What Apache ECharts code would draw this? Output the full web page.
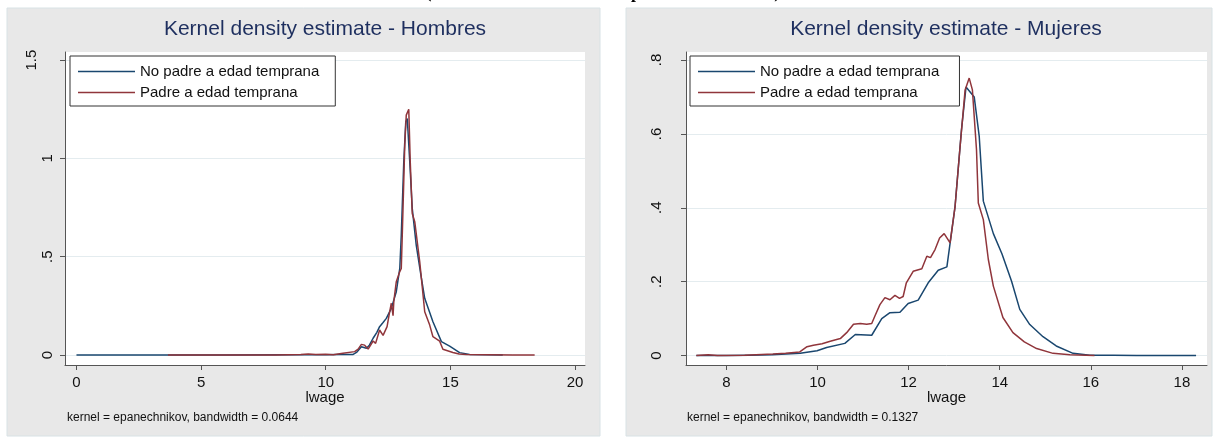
<!DOCTYPE html>
<html>
<head>
<meta charset="utf-8">
<script src="https://cdn.jsdelivr.net/npm/echarts@6/dist/echarts.min.js"></script>
<style>
html,body{margin:0;padding:0;background:#fff;}
#c{width:1216px;height:437px;}
</style>
</head>
<body>
<div id="c"></div>
<script>
// ---------- DATA ----------
const seriesNames = ['No padre a edad temprana', 'Padre a edad temprana'];
const panelTitles = ['Kernel density estimate - Hombres', 'Kernel density estimate - Mujeres'];
const panelNotes = ['kernel = epanechnikov, bandwidth = 0.0644', 'kernel = epanechnikov, bandwidth = 0.1327'];
const xAxisName = 'lwage';
const xTicksH = [0, 5, 10, 15, 20];
const yTicksH = [0, 0.5, 1, 1.5];
const xTicksM = [8, 10, 12, 14, 16, 18];
const yTicksM = [0, 0.2, 0.4, 0.6, 0.8];

// Hombres - No padre (blue)
const hombresNoPadre = [[0,0],[3,0],[6,0],[9,0.001],[10,0.001],[10.5,0.002],[11.1,0.003],[11.25,0.015],[11.43,0.042],[11.63,0.034],[11.75,0.05],[11.9,0.085],[12.05,0.115],[12.16,0.144],[12.3,0.165],[12.43,0.186],[12.63,0.237],[12.83,0.322],[12.97,0.44],[13.03,0.61],[13.13,0.983],[13.21,1.186],[13.27,1.203],[13.37,0.983],[13.47,0.746],[13.63,0.559],[13.8,0.42],[13.97,0.288],[14.3,0.169],[14.64,0.068],[14.97,0.045],[15.37,0.012],[15.77,0.003],[16.5,0.001],[17.1,0]];
// Hombres - Padre (red)
const hombresPadre = [[3.67,0],[6,0],[8,0],[9,0.002],[9.3,0.005],[9.6,0.002],[10,0.004],[10.3,0.001],[10.69,0.009],[11.16,0.017],[11.3,0.03],[11.43,0.054],[11.56,0.05],[11.7,0.03],[11.9,0.071],[12.0,0.059],[12.16,0.127],[12.3,0.10],[12.36,0.09],[12.46,0.144],[12.54,0.203],[12.63,0.263],[12.7,0.20],[12.73,0.271],[12.83,0.373],[12.97,0.424],[13.03,0.44],[13.07,0.61],[13.17,1.068],[13.23,1.22],[13.33,1.25],[13.39,0.983],[13.47,0.72],[13.57,0.678],[13.77,0.474],[13.97,0.22],[14.03,0.212],[14.17,0.152],[14.3,0.093],[14.57,0.07],[14.7,0.029],[15.1,0.013],[15.35,0.005],[15.64,0.002],[16.5,0.001],[17.5,0],[18.38,0]];
// Mujeres - No padre (blue)
const mujeresNoPadre = [[7.34,0],[8,0],[8.5,0.001],[9.0,0.002],[9.62,0.006],[9.99,0.013],[10.2,0.022],[10.6,0.033],[10.83,0.057],[11.19,0.055],[11.41,0.10],[11.59,0.116],[11.81,0.117],[11.99,0.141],[12.21,0.15],[12.43,0.197],[12.65,0.231],[12.84,0.24],[13.02,0.404],[13.16,0.611],[13.26,0.727],[13.44,0.70],[13.55,0.593],[13.64,0.418],[13.86,0.33],[14.05,0.275],[14.26,0.201],[14.44,0.125],[14.66,0.084],[14.95,0.051],[15.24,0.026],[15.61,0.006],[15.98,0.001],[16.5,0.001],[17.0,0],[18.31,0]];
// Mujeres - Padre (red)
const mujeresPadre = [[7.34,0],[7.6,0.002],[7.8,0],[8.4,0.001],[9.02,0.004],[9.3,0.006],[9.61,0.01],[9.77,0.024],[9.91,0.028],[10.1,0.032],[10.28,0.039],[10.5,0.046],[10.64,0.062],[10.79,0.085],[10.94,0.087],[11.08,0.085],[11.19,0.087],[11.26,0.107],[11.37,0.138],[11.48,0.157],[11.59,0.151],[11.7,0.163],[11.8,0.155],[11.88,0.16],[11.95,0.197],[12.1,0.228],[12.29,0.235],[12.4,0.269],[12.48,0.265],[12.58,0.287],[12.68,0.318],[12.78,0.33],[12.91,0.305],[13.02,0.404],[13.13,0.566],[13.24,0.719],[13.33,0.751],[13.4,0.719],[13.49,0.557],[13.53,0.413],[13.64,0.368],[13.75,0.26],[13.86,0.188],[14.07,0.103],[14.29,0.062],[14.54,0.037],[14.81,0.019],[15.17,0.006],[15.54,0.002],[16.08,0]];

// ---------- STYLE ----------
const BLUE = '#1a476f';
const RED = '#90353b';
const FONT = '"Liberation Sans", Arial, sans-serif';
const GRIDC = '#e4ecef';
const AXC = '#555555';

function yFmt(v){
  if (Math.abs(v) < 1e-9) return '0';
  const s = String(+v.toFixed(2)).replace(/^0\./, '.');
  return s.length > 2 ? '{w|' + s + '}' : s;
}

function makeX(idx, min, max, ticks){
  return {
    type:'value', gridIndex:idx, min:min, max:max,
    name:xAxisName, nameLocation:'middle', nameGap:25, nameMoveOverlap:false,
    nameTextStyle:{fontFamily:FONT, fontSize:15, color:'#111'},
    axisLine:{show:true, onZero:false, lineStyle:{color:AXC, width:1}},
    axisTick:{show:true, length:5, customValues:ticks, lineStyle:{color:AXC}},
    axisLabel:{customValues:ticks, fontFamily:FONT, fontSize:15, color:'#111', margin:10},
    splitLine:{show:false}
  };
}
function makeY(idx, min, max, ticks, margin){
  return {
    type:'value', gridIndex:idx, min:min, max:max,
    axisLine:{show:true, onZero:false, lineStyle:{color:AXC, width:1}},
    axisTick:{show:true, length:5, customValues:ticks, lineStyle:{color:AXC}},
    axisLabel:{customValues:ticks, formatter:yFmt, rotate:90, fontFamily:FONT, fontSize:15, color:'#111', margin:margin,
      rich:{w:{fontFamily:FONT, fontSize:15, color:'#111', padding:[0,0,16,0]}}},
    splitLine:{show:true, lineStyle:{color:GRIDC, width:1}}
  };
}
function line(name, xi, data, color){
  return {type:'line', name:name, xAxisIndex:xi, yAxisIndex:xi, data:data, symbol:'none', showSymbol:false,
    lineStyle:{color:color, width:1.5}, itemStyle:{color:color}, animation:false, z: color===RED?3:2};
}
function legend(left, names){
  return {
    left:left, top:56, orient:'vertical', itemWidth:57, itemHeight:14, itemGap:6,
    padding:[8,16,6,8], borderColor:'#333', borderWidth:1, backgroundColor:'#fff',
    icon:'path://M0,0 L57,0 L57,1.5 L0,1.5 Z',
    textStyle:{fontFamily:FONT, fontSize:15, color:'#111'},
    data:names.map(n=>({name:n}))
  };
}

const chart = echarts.init(document.getElementById('c'), null, {renderer:'canvas'});
const opt = {
  animation:false,
  backgroundColor:'#ffffff',
  graphic:[
    {type:'rect', z:-10, shape:{x:7,y:8,width:593,height:428}, style:{fill:'#e8e8e8', stroke:'#d8e2e5', lineWidth:1}},
    {type:'rect', z:-10, shape:{x:626,y:8,width:586,height:428}, style:{fill:'#e8e8e8', stroke:'#d8e2e5', lineWidth:1}},
    {type:'text', z:50, style:{x:603, y:2, text:'(Estimación de la densidad por nivel de salario)', font:'bold 17.5px "Liberation Serif", serif', fill:'#000', align:'center', verticalAlign:'bottom'}},
    {type:'text', z:50, style:{x:325, y:19, text:panelTitles[0], font:'21px "Liberation Sans", Arial, sans-serif', fill:'#1e2f5f', align:'center', verticalAlign:'top'}},
    {type:'text', z:50, style:{x:946, y:19, text:panelTitles[1], font:'21px "Liberation Sans", Arial, sans-serif', fill:'#1e2f5f', align:'center', verticalAlign:'top'}},
    {type:'text', z:50, style:{x:67, y:418, text:panelNotes[0], font:'12px "Liberation Sans", Arial, sans-serif', fill:'#111', align:'left', verticalAlign:'middle'}},
    {type:'text', z:50, style:{x:687, y:418, text:panelNotes[1], font:'12px "Liberation Sans", Arial, sans-serif', fill:'#111', align:'left', verticalAlign:'middle'}}
  ],
  legend:[ legend(70, seriesNames), legend(690, seriesNames.map(n=>n+' ')) ],
  grid:[
    {left:65, top:52, width:520, height:313, show:true, backgroundColor:'#ffffff', borderWidth:0},
    {left:686, top:52, width:521, height:313, show:true, backgroundColor:'#ffffff', borderWidth:0}
  ],
  xAxis:[ makeX(0, -0.46, 20.4, xTicksH), makeX(1, 7.113, 18.55, xTicksM) ],
  yAxis:[ makeY(0, -0.051, 1.541, yTicksH, 10), makeY(1, -0.0255, 0.8216, yTicksM, 22) ],
  series:[
    line(seriesNames[0], 0, hombresNoPadre, BLUE),
    line(seriesNames[1], 0, hombresPadre, RED),
    line(seriesNames[0]+' ', 1, mujeresNoPadre, BLUE),
    line(seriesNames[1]+' ', 1, mujeresPadre, RED)
  ]
};
chart.setOption(opt);
</script>
</body>
</html>
